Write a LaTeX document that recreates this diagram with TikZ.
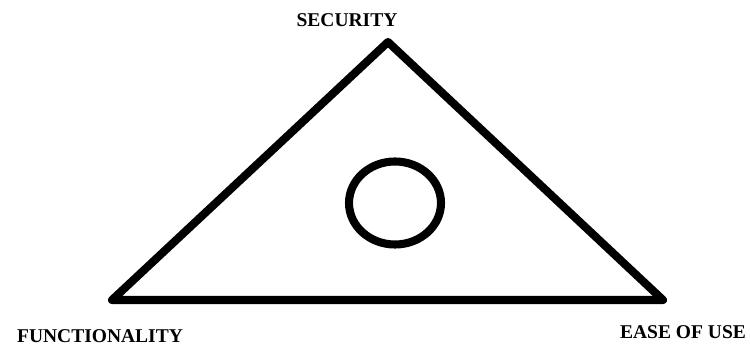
\documentclass[tikz,border=0pt]{standalone}
\usepackage{fontspec}
\setmainfont{Liberation Serif}
\usetikzlibrary{positioning}

\begin{document}
\begin{tikzpicture}[
        x=0.02cm, y=-0.02cm,
        font=\fontsize{11.1}{13}\selectfont\bfseries,
        side_line/.style={draw, line width=4.6pt, line join=round, line cap=round},
        corner_label/.style={inner sep=0pt, anchor=center}
    ]
        \useasboundingbox (0,0) rectangle (750,347);

        \coordinate (top) at (388,42);
        \coordinate (left) at (112,300);
        \coordinate (right) at (663,300);

        \draw[side_line] (top) -- (right) -- (left) -- cycle;
        \draw[side_line] (395,203) ellipse (46 and 41.5);

        \node[corner_label] (security) at (347,20) {SECURITY};
        \node[corner_label] (functionality) at (100,336) {FUNCTIONALITY};
        \node[corner_label] (easeofuse) at (683,332) {EASE OF USE};
    \end{tikzpicture}
\end{document}
